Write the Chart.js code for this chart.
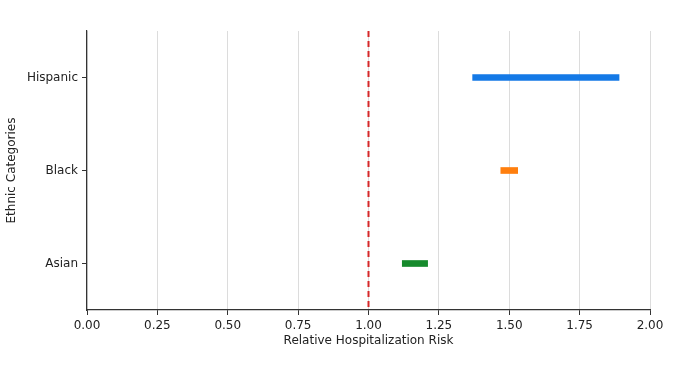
<!DOCTYPE html>
<html>
<head>
<meta charset="utf-8">
<script src="https://cdn.jsdelivr.net/npm/chart.js@4"></script>
<style>
  body { margin: 0; background: #fff; }
</style>
</head>
<body>
<canvas id="myChart" width="681" height="369"></canvas>
<script>
const categories = ['Hispanic', 'Black', 'Asian'];
const lowValues = [1.37, 1.47, 1.12];
const highValues = [1.89, 1.53, 1.21];
const barColors = ['#1479e6', '#ff7f0e', '#168a2c'];
const refLine = 1.0;
const xTicks = [0, 0.25, 0.5, 0.75, 1, 1.25, 1.5, 1.75, 2];

const ranges = categories.map((c, i) => [lowValues[i], highValues[i]]);

// red dashed reference line at x = 1.0
const refLinePlugin = {
    id: 'refLine',
    afterDatasetsDraw(chart) {
        const ctx = chart.ctx;
        const x = chart.scales.x.getPixelForValue(refLine);
        const area = chart.chartArea;
        ctx.save();
        ctx.strokeStyle = '#d62728';
        ctx.lineWidth = 2;
        ctx.setLineDash([6, 4]);
        ctx.beginPath();
        ctx.moveTo(x, area.top);
        ctx.lineTo(x, area.bottom);
        ctx.stroke();
        ctx.restore();
    }
};

const font = { family: 'DejaVu Sans', size: 12 };

new Chart(document.getElementById('myChart').getContext('2d'), {
    type: 'bar',
    data: {
        labels: categories,
        datasets: [{
            data: ranges,
            backgroundColor: barColors,
            borderWidth: 0,
            borderSkipped: false,
            barThickness: 6
        }]
    },
    options: {
        indexAxis: 'y',
        responsive: false,
        animation: false,
        layout: { padding: { top: 31, right: 31, left: 5, bottom: 21 } },
        plugins: {
            legend: { display: false },
            tooltip: { enabled: false }
        },
        scales: {
            x: {
                type: 'linear',
                min: 0,
                max: 2,
                afterBuildTicks: scale => { scale.ticks = xTicks.map(v => ({ value: v })); },
                afterFit: scale => { scale.height = 38; },
                ticks: {
                    color: '#222',
                    font: font,
                    padding: 4,
                    callback: v => Number(v).toFixed(2)
                },
                grid: {
                    color: '#dcdcdc',
                    tickColor: '#333',
                    tickLength: 5,
                    lineWidth: 1
                },
                border: { color: '#333', width: 1.2 },
                title: {
                    display: true,
                    text: 'Relative Hospitalization Risk',
                    color: '#222',
                    font: font,
                    padding: { top: 2, bottom: 0 }
                }
            },
            y: {
                afterFit: scale => { scale.width = 82; },
                ticks: {
                    color: '#222',
                    font: font,
                    padding: 4
                },
                grid: {
                    display: true,
                    drawOnChartArea: false,
                    offset: false,
                    tickColor: '#333',
                    tickLength: 5
                },
                border: { color: '#333', width: 1.2 },
                title: {
                    display: true,
                    text: 'Ethnic Categories',
                    color: '#222',
                    font: font,
                    padding: { top: 0, bottom: 4 }
                }
            }
        }
    },
    plugins: [refLinePlugin]
});
</script>
</body>
</html>
